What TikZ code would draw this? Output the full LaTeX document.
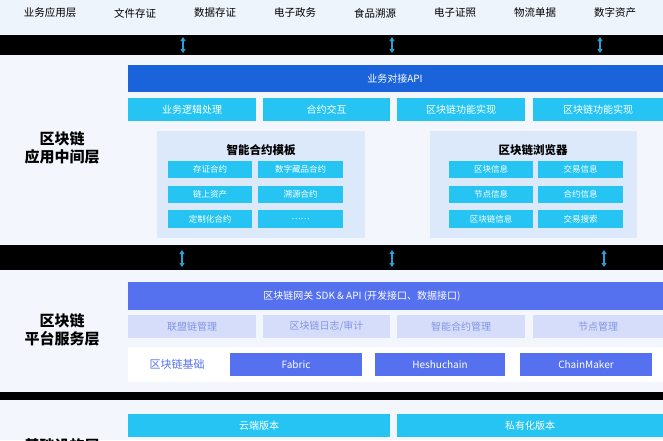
\documentclass[tikz,border=0pt]{standalone}
\usepackage{fontspec}
\setmainfont{Noto Sans CJK SC}
\usetikzlibrary{arrows.meta}
\definecolor{bgtop}{HTML}{EEF4FB}
\definecolor{bglay}{HTML}{F3F7FD}
\definecolor{apiblue}{HTML}{1A63DB}
\definecolor{skyc}{HTML}{25C4F2}
\definecolor{panelc}{HTML}{DCE9FB}
\definecolor{indigoc}{HTML}{5571F0}
\definecolor{paleind}{HTML}{D6DDFA}
\definecolor{paletxt}{HTML}{8494E4}
\definecolor{arrc}{HTML}{2A9FD8}
\begin{document}
\begin{tikzpicture}[x=1pt,y=-1pt,
  box/.style={inner sep=0pt,text=white,font=\fontsize{10}{10}\selectfont},
  small/.style={inner sep=0pt,text=white,font=\fontsize{8.5}{9}\selectfont},
  toptxt/.style={font=\fontsize{10.5}{11}\selectfont},
  ttl/.style={font=\fontsize{11.5}{12}\selectfont\bfseries},
  laytxt/.style={font=\fontsize{15}{18}\selectfont\bfseries,align=center},
  updown/.style={{Triangle[width=5pt,length=4pt]}-{Triangle[width=5pt,length=4pt]},line width=1.6pt,arrc}]
\useasboundingbox (0,0) rectangle (663,440);
\begin{scope}
\clip (0,0) rectangle (663,440);
% backgrounds
\fill[bgtop] (0,0) rectangle (663,35);
\fill[black] (0,35) rectangle (663,55);
\fill[bglay] (0,55) rectangle (663,245);
\fill[black] (0,245) rectangle (663,270);
\fill[bglay] (0,270) rectangle (663,392);
\fill[black] (0,392) rectangle (663,400);
\fill[bglay] (0,400) rectangle (663,440);
% top row
\node[toptxt] (t0) at (50,13) {业务应用层};
\node[toptxt] (t1) at (135,13) {文件存证};
\node[toptxt] (t2) at (215,13) {数据存证};
\node[toptxt] (t3) at (295,13) {电子政务};
\node[toptxt] (t4) at (375,13) {食品溯源};
\node[toptxt] (t5) at (455,13) {电子证照};
\node[toptxt] (t6) at (535,13) {物流单据};
\node[toptxt] (t7) at (615,13) {数字资产};
% arrows
\coordinate (a1) at (183,37); \coordinate (b1) at (183,53);
\coordinate (a2) at (392,37); \coordinate (b2) at (392,53);
\coordinate (a3) at (600,37); \coordinate (b3) at (600,53);
\coordinate (c1) at (182,250); \coordinate (d1) at (182,267);
\coordinate (c2) at (392,250); \coordinate (d2) at (392,267);
\coordinate (c3) at (604,250); \coordinate (d3) at (604,267);
\path[draw,updown] (a1) -- (b1);
\path[draw,updown] (a2) -- (b2);
\path[draw,updown] (a3) -- (b3);
\path[draw,updown] (c1) -- (d1);
\path[draw,updown] (c2) -- (d2);
\path[draw,updown] (c3) -- (d3);
% application middle layer
\node[laytxt] (mid) at (62,148) {区块链\\应用中间层};
\fill[apiblue] (128,65) rectangle (663,92);
\node[box] (api) at (395,78.5) {业务对接API};
\fill[skyc] (128,98) rectangle (256,121);
\fill[skyc] (263,98) rectangle (390,121);
\fill[skyc] (397,98) rectangle (525,121);
\fill[skyc] (533,98) rectangle (663,121);
\node[box] (f1) at (192,109.5) {业务逻辑处理};
\node[box] (f2) at (326.5,109.5) {合约交互};
\node[box] (f3) at (461,109.5) {区块链功能实现};
\node[box] (f4) at (598,109.5) {区块链功能实现};
\fill[panelc] (157,131) rectangle (365,238);
\fill[panelc] (430,131) rectangle (637,238);
\node[ttl] (tpl) at (261,150) {智能合约模板};
\node[ttl] (brw) at (533,150) {区块链浏览器};
\foreach \ya/\yb in {161/178,186/203,210/228} {
  \fill[skyc] (168,\ya) rectangle (252,\yb);
  \fill[skyc] (258,\ya) rectangle (343,\yb);
  \fill[skyc] (449,\ya) rectangle (533,\yb);
  \fill[skyc] (538,\ya) rectangle (623,\yb);
}
\node[small] (s1) at (210,169.5) {存证合约};
\node[small] (s2) at (300.5,169.5) {数字藏品合约};
\node[small] (s3) at (210,194.5) {链上资产};
\node[small] (s4) at (300.5,194.5) {溯源合约};
\node[small] (s5) at (210,219) {定制化合约};
\node[small] (s6) at (300.5,219) {……};
\node[small] (e1) at (491,169.5) {区块信息};
\node[small] (e2) at (580.5,169.5) {交易信息};
\node[small] (e3) at (491,194.5) {节点信息};
\node[small] (e4) at (580.5,194.5) {合约信息};
\node[small] (e5) at (491,219) {区块链信息};
\node[small] (e6) at (580.5,219) {交易搜索};
% platform service layer
\node[laytxt] (plat) at (62,330) {区块链\\平台服务层};
\fill[indigoc] (128,282) rectangle (663,310);
\node[box] (sdk) at (362,296) {区块链网关 SDK \& API (开发接口、数据接口)};
\fill[paleind] (128,315) rectangle (256,338);
\fill[paleind] (263,315) rectangle (390,338);
\fill[paleind] (397,315) rectangle (525,338);
\fill[paleind] (533,315) rectangle (663,338);
\node[box,text=paletxt] (m1) at (192,326.5) {联盟链管理};
\node[box,text=paletxt] (m2) at (326.5,326.5) {区块链日志/审计};
\node[box,text=paletxt] (m3) at (461,326.5) {智能合约管理};
\node[box,text=paletxt] (m4) at (598,326.5) {节点管理};
\fill[white] (128,347) rectangle (663,382);
\node[box,text=indigoc,font=\fontsize{11}{11}\selectfont] (base) at (177,364.5) {区块链基础};
\fill[indigoc] (230,353) rectangle (362,376);
\fill[indigoc] (375,353) rectangle (505,376);
\fill[indigoc] (520,353) rectangle (652,376);
\node[box] (fab) at (296,364.5) {Fabric};
\node[box] (hes) at (440,364.5) {Heshuchain};
\node[box] (cm) at (586,364.5) {ChainMaker};
% infrastructure layer
\node[laytxt] (infra) at (62,446) {基础设施层};
\fill[skyc] (128,414) rectangle (390,437);
\fill[skyc] (397,414) rectangle (663,437);
\node[box] (cloud) at (259,425.5) {云端版本};
\node[box] (priv) at (530,425.5) {私有化版本};
\end{scope}
\end{tikzpicture}
\end{document}
